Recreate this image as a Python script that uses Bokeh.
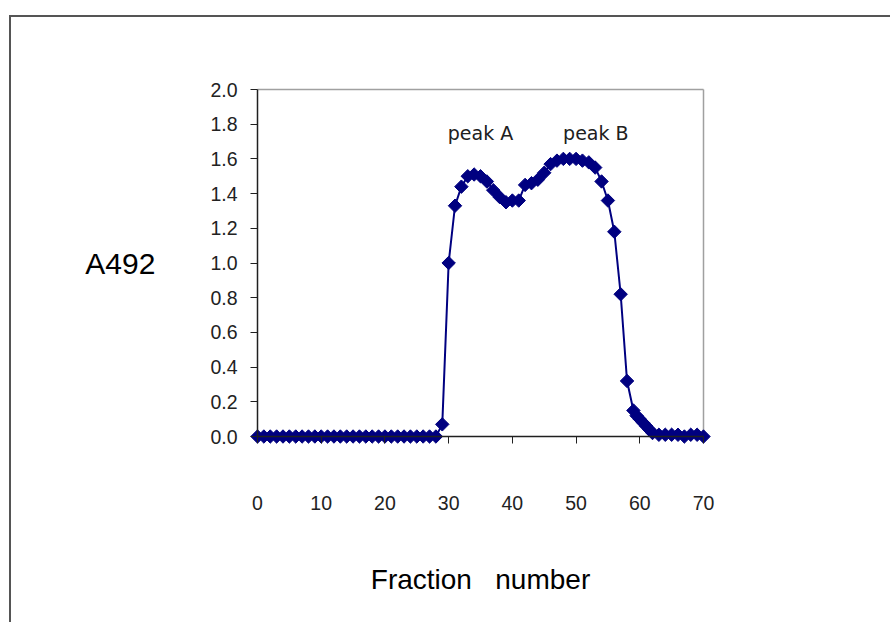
import numpy as np
from bokeh.plotting import figure
from bokeh.models import Range1d, FixedTicker, PrintfTickFormatter, Label, LinearAxis
from bokeh.embed import file_html
from bokeh.resources import INLINE

# ---- data ----
fraction = list(range(0, 29)) + list(range(29, 59)) + [59, 59.5, 60, 60.5, 61, 61.5, 62] + list(range(63, 71))
a492 = ([0.0] * 29 +
        [0.07, 1.00, 1.33, 1.44, 1.50, 1.51, 1.50, 1.47, 1.42, 1.38,
         1.35, 1.36, 1.36, 1.45, 1.46, 1.48, 1.52, 1.57, 1.59, 1.60,
         1.60, 1.60, 1.59, 1.58, 1.55, 1.47, 1.36, 1.18, 0.82, 0.32] +
        [0.15, 0.12, 0.10, 0.08, 0.06, 0.04, 0.02] +
        [0.01, 0.01, 0.01, 0.01, 0.0, 0.01, 0.01, 0.0])
x_ticks = [0, 10, 20, 30, 40, 50, 60, 70]
y_ticks = [0.0, 0.2, 0.4, 0.6, 0.8, 1.0, 1.2, 1.4, 1.6, 1.8, 2.0]
peak_labels = ["peak A", "peak B"]
peak_x = [35.0, 53.1]
peak_y = [1.75, 1.75]

FONT = "Liberation Sans"
ox, oy = 11, 17  # canvas origin inside bordered page
W, H = 892 - ox, 624 - oy

# plot area in page pixels
L, R, T, B = 257, 703, 89, 436
PAD = 9  # extra frame room so edge markers are not clipped
xmin, xmax = x_ticks[0], x_ticks[-1]
ymin, ymax = y_ticks[0], y_ticks[-1]
xpad = PAD * (xmax - xmin) / (R - L)
ypad = PAD * (ymax - ymin) / (B - T)

p = figure(width=W, height=H, output_backend="svg", toolbar_location=None,
           x_range=Range1d(xmin - xpad, xmax + xpad), y_range=Range1d(ymin - ypad, ymax + ypad),
           min_border_left=L - PAD - ox, min_border_right=W - (R + PAD - ox),
           min_border_top=T - PAD - oy, min_border_bottom=H - (B + PAD - oy))
p.styles = {"margin-left": "9px", "margin-top": "15px",
            "border-left": "2px solid #555555", "border-top": "2px solid #555555"}

p.xgrid.visible = False
p.ygrid.visible = False
p.outline_line_color = None

# gray top and right edges of the plot area
p.segment(x0=[xmin, xmax], y0=[ymax, ymin], x1=[xmax, xmax], y1=[ymax, ymax],
          line_color="#a0a0a0", line_width=1.5)

# label-only axes on the panels
for ax in (p.xaxis[0], p.yaxis[0]):
    ax.axis_line_color = None
    ax.major_tick_line_color = None
    ax.major_tick_out = 0
    ax.major_tick_in = 0
    ax.minor_tick_line_color = None
    ax.major_label_text_font = FONT
    ax.major_label_text_font_size = "19.5px"
    ax.major_label_text_color = "#222222"
    ax.axis_label_text_font = FONT
    ax.axis_label_text_font_style = "normal"
    ax.axis_label_text_color = "black"
    ax.axis_label_text_font_size = "28px"

p.xaxis.ticker = FixedTicker(ticks=x_ticks)
p.yaxis.ticker = FixedTicker(ticks=y_ticks)
p.yaxis.formatter = PrintfTickFormatter(format="%.1f")
p.xaxis.major_label_standoff = 50
p.yaxis.major_label_standoff = 11
p.xaxis.axis_label = "Fraction\u00a0\u00a0\u00a0number"
p.xaxis.axis_label_standoff = 51
p.yaxis.axis_label = "A492"
p.yaxis.axis_label_orientation = "horizontal"
p.yaxis.axis_label_standoff = 52
p.yaxis.axis_label_text_font_size = "30px"

# axis lines + ticks placed exactly at zero
for loc, side, ticks, bounds in ((ymin, "below", x_ticks, (xmin, xmax)),
                                 (xmin, "left", y_ticks, (ymin, ymax))):
    a = LinearAxis(fixed_location=loc, ticker=FixedTicker(ticks=ticks), bounds=bounds)
    a.axis_line_color = "#202020"
    a.axis_line_width = 1.5
    a.major_tick_line_color = "#202020"
    a.major_tick_out = 7
    a.major_tick_in = 0
    a.minor_tick_line_color = None
    a.major_label_text_font_size = "0px"
    a.major_label_text_color = None
    a.major_label_standoff = 0
    p.add_layout(a, side)

p.line(fraction, a492, line_color="#000080", line_width=2)
p.scatter(fraction, a492, marker="square", angle=np.pi / 4, size=9.5,
          fill_color="#000080", line_color="#000080")

for t, x, y in zip(peak_labels, peak_x, peak_y):
    p.add_layout(Label(x=x, y=y, text=t, text_align="center", text_baseline="middle",
                       text_font="DejaVu Sans", text_font_size="19px", text_color="#202020"))

open("out.html", "w").write(file_html(p, INLINE))
